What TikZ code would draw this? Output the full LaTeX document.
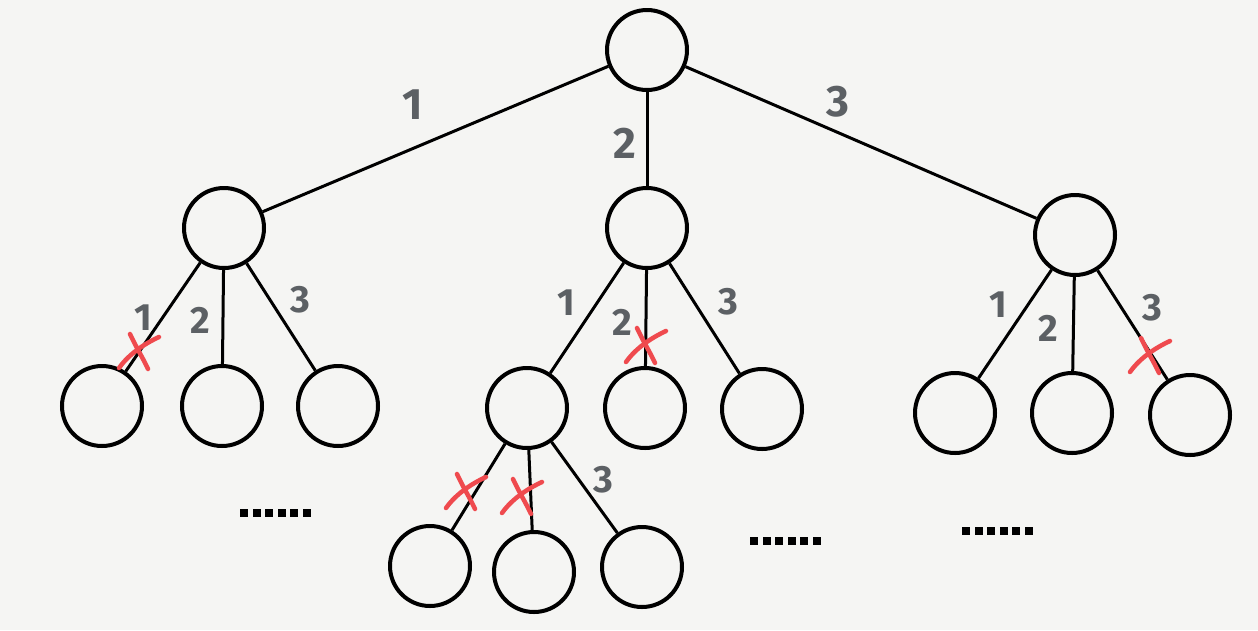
\documentclass[tikz,border=0pt]{standalone}
\usepackage{fontspec}
\setmainfont{Fira Sans}
\begin{document}
\begin{tikzpicture}[x=1pt,y=-1pt,
  tn/.style={circle,draw=black,line width=4pt,minimum size=80pt,inner sep=0pt},
  edge/.style={draw=black,line width=3pt},
  lab/.style={text=labgrey,font=\fontsize{44}{44}\selectfont\bfseries,inner sep=0pt},
  slab/.style={text=labgrey,font=\fontsize{38}{38}\selectfont\bfseries,inner sep=0pt},
  redx/.pic={\draw[crossred,line width=4.5pt,line cap=round] (-20,17) .. controls (-10,3) and (5,-7) .. (20,-14);
             \draw[crossred,line width=4.5pt,line cap=round] (-9,-17) .. controls (-2,-2) and (4,7) .. (9,18);}
]
\definecolor{labgrey}{HTML}{5C6064}
\definecolor{crossred}{HTML}{EF4A4E}
\definecolor{paper}{HTML}{F5F5F3}
\fill[paper] (0,0) rectangle (1258,630);
\useasboundingbox (0,0) rectangle (1258,630);

\node[tn] (root) at (647,50) {};
\node[tn] (L) at (224,228) {};
\node[tn] (M) at (647,228) {};
\node[tn] (R) at (1075,235) {};
\node[tn] (L1) at (102,406) {};
\node[tn] (L2) at (222,406) {};
\node[tn] (L3) at (338,406) {};
\node[tn] (M1) at (527,408) {};
\node[tn] (M2) at (645,408) {};
\node[tn] (M3) at (762,409) {};
\node[tn] (R1) at (955,413) {};
\node[tn] (R2) at (1072,413) {};
\node[tn] (R3) at (1190,415) {};
\node[tn] (C1) at (430,566) {};
\node[tn] (C2) at (534,572) {};
\node[tn] (C3) at (642,567) {};

\foreach \a/\b in {root/L,root/M,root/R,L/L1,L/L2,L/L3,M/M1,M/M2,M/M3,R/R1,R/R2,R/R3,M1/C1,M1/C2,M1/C3}
  \draw[edge] (\a) -- (\b);

\node[lab] (t1) at (413,105) {1};
\node[lab] (t2) at (625,143) {2};
\node[lab] (t3) at (838,102) {3};
\node[slab] (l1) at (143,318) {1};
\node[slab] (l2) at (200,320) {2};
\node[slab] (l3) at (300,300) {3};
\node[slab] (m1) at (566,303) {1};
\node[slab] (m2) at (622,322) {2};
\node[slab] (m3) at (728,302) {3};
\node[slab] (r1) at (998,305) {1};
\node[slab] (r2) at (1048,328) {2};
\node[slab] (r3) at (1152,308) {3};
\node[slab] (c3) at (603,480) {3};

\pic at (139,351) {redx};
\pic at (646,345) {redx};
\pic at (1150,355) {redx};
\pic at (466,491) {redx};
\pic at (522,496) {redx};

\foreach \x in {244,256.5,269,281.5,294,306.5} \fill[black] (\x-4,513-4) rectangle (\x+4,513+4);
\foreach \x in {754,766.5,779,791.5,804,816.5} \fill[black] (\x-4,541-4) rectangle (\x+4,541+4);
\foreach \x in {966,978.5,991,1003.5,1016,1028.5} \fill[black] (\x-4,531-4) rectangle (\x+4,531+4);
\end{tikzpicture}
\end{document}
